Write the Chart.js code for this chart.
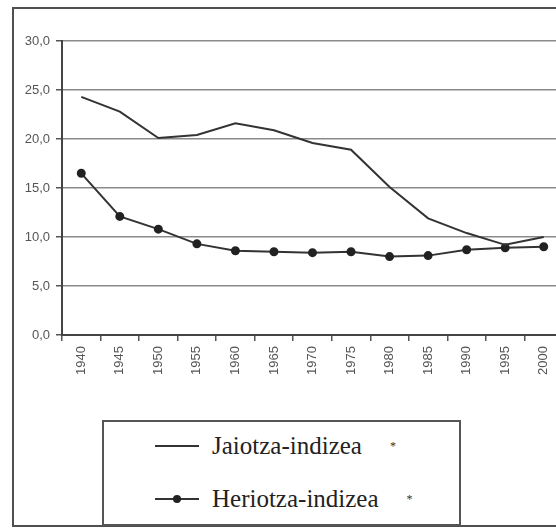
<!DOCTYPE html>
<html><head><meta charset="utf-8">
<script src="https://cdn.jsdelivr.net/npm/chart.js@4/dist/chart.umd.min.js"></script>
<style>
html,body{margin:0;padding:0;width:556px;height:531px;overflow:hidden;background:#fff;}
#frame{position:absolute;left:12px;top:7px;width:600px;height:520px;border:2px solid #505050;box-sizing:border-box;}
#wrap{position:absolute;left:0;top:0;width:570px;height:400px;}
#legend{position:absolute;left:102px;top:420px;width:359px;height:106px;border:2px solid #555;box-sizing:border-box;font-family:"Liberation Serif",serif;font-size:25px;color:#222;}
.row{position:absolute;left:0;height:30px;line-height:30px;white-space:nowrap;}
.sample{position:absolute;left:51px;top:14px;width:44px;height:2px;background:#333;}
.dot{position:absolute;left:18px;top:-3px;width:8px;height:8px;border-radius:50%;background:#222;}
.lbl{position:absolute;left:108px;top:0;}
.star{font-size:12px;color:#333;margin-left:28px;vertical-align:top;}
</style></head>
<body>
<div id="frame"></div>
<div id="wrap"><canvas id="c" width="570" height="400"></canvas></div>
<div id="legend">
  <div class="row" style="top:9px;width:350px;"><div class="sample"></div><span class="lbl">Jaiotza-indizea<span class="star">*</span></span></div>
  <div class="row" style="top:62px;width:350px;"><div class="sample"><div class="dot"></div></div><span class="lbl">Heriotza-indizea<span class="star">*</span></span></div>
</div>
<script>
const years = ["1940","1945","1950","1955","1960","1965","1970","1975","1980","1985","1990","1995","2000"];
const birthRate = [24.3, 22.8, 20.1, 20.4, 21.6, 20.9, 19.6, 18.9, 15.1, 11.9, 10.4, 9.2, 10.0];
const deathRate = [16.5, 12.1, 10.8, 9.3, 8.6, 8.5, 8.4, 8.5, 8.0, 8.1, 8.7, 8.9, 9.0];
const seriesNames = ["Jaiotza-indizea", "Heriotza-indizea"];

new Chart(document.getElementById('c'), {
  type: 'line',
  data: {
    labels: years,
    datasets: [
      {label: seriesNames[0], data: birthRate, borderColor: '#333', borderWidth: 2, pointRadius: 0, tension: 0},
      {label: seriesNames[1], data: deathRate, borderColor: '#333', borderWidth: 2, pointRadius: 3.5, pointBackgroundColor: '#222', pointBorderColor: '#222', tension: 0}
    ]
  },
  options: {
    responsive: false,
    animation: false,
    layout: {padding: {left: 0, top: 41, right: 7, bottom: 0}},
    plugins: {legend: {display: false}, tooltip: {enabled: false}},
    scales: {
      x: {
        offset: true,
        afterFit: s => { s.height = 65; },
        grid: {offset: true, drawOnChartArea: false, tickLength: 6, color: '#555', lineWidth: 1.5},
        border: {color: '#444', width: 2},
        ticks: {minRotation: 90, maxRotation: 90, padding: 5, color: '#555', font: {family: 'Liberation Sans', size: 13}}
      },
      y: {
        min: 0, max: 30,
        afterFit: s => { s.width = 62; },
        grid: {color: '#8a8a8a', lineWidth: 1.5, tickLength: 6, tickColor: '#555'},
        border: {color: '#444', width: 2},
        ticks: {stepSize: 5, padding: 6, color: '#555', font: {family: 'Liberation Sans', size: 13},
          callback: v => v.toFixed(1).replace('.', ',')}
      }
    }
  }
});
</script>
</body></html>
